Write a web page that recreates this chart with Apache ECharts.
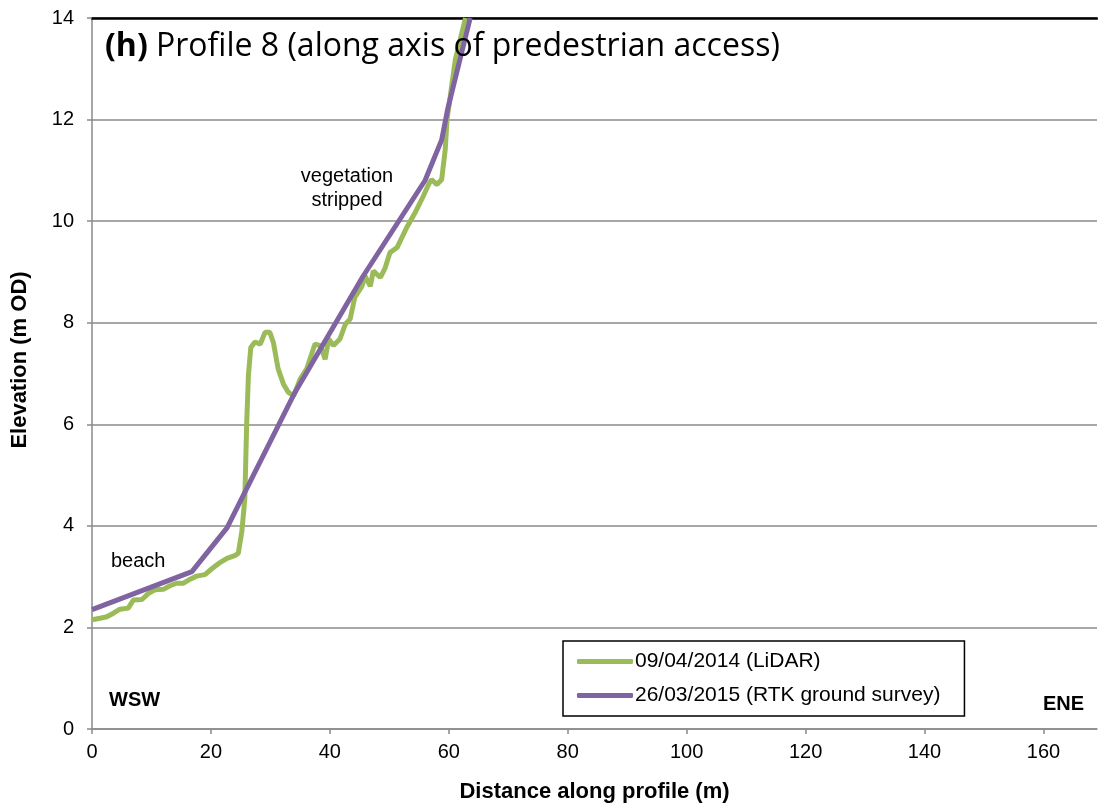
<!DOCTYPE html>
<html>
<head>
<meta charset="utf-8">
<script src="https://cdn.jsdelivr.net/npm/echarts@6/dist/echarts.min.js"></script>
<style>
html,body{margin:0;padding:0;background:#fff;}
#chart{width:1098px;height:808px;}
</style>
</head>
<body>
<div id="chart"></div>
<script>
// LiDAR profile, 09/04/2014
var lidarX = [0, 1.35, 2.5, 3.6, 4.7, 6.1, 6.95, 8.4, 9.5, 10.6, 12.0, 13.1, 14.2, 15.4, 16.5, 17.6, 19.0, 20.1, 21.3, 22.7, 24.1, 24.6, 25.2, 25.7, 26.0, 26.3, 26.7, 27.4, 28.3, 29.1, 29.9, 30.5, 31.3, 32.2, 33.0, 33.9, 35.0, 36.1, 37.5, 38.4, 39.2, 39.8, 40.6, 41.7, 42.6, 43.4, 44.2, 45.4, 45.9, 46.8, 47.3, 48.5, 49.3, 50.1, 51.3, 52.9, 54.3, 55.7, 56.6, 57.1, 58.0, 58.8, 59.4, 59.7, 61.1, 62.8];
var lidarY = [2.15, 2.18, 2.21, 2.28, 2.36, 2.38, 2.54, 2.55, 2.67, 2.74, 2.75, 2.82, 2.87, 2.87, 2.95, 3.01, 3.04, 3.15, 3.26, 3.36, 3.42, 3.46, 3.89, 4.54, 5.97, 6.96, 7.51, 7.62, 7.58, 7.81, 7.81, 7.61, 7.09, 6.79, 6.63, 6.56, 6.89, 7.09, 7.58, 7.55, 7.28, 7.68, 7.55, 7.68, 7.97, 8.07, 8.50, 8.72, 8.92, 8.72, 9.02, 8.89, 9.08, 9.38, 9.48, 9.87, 10.16, 10.49, 10.72, 10.82, 10.72, 10.82, 11.41, 12.0, 13.18, 14.0];
// RTK ground survey, 26/03/2015
var rtkX = [0, 16.8, 22.7, 34, 45.5, 56, 58.8, 59.8, 63.6];
var rtkY = [2.35, 3.1, 3.96, 6.6, 8.9, 10.8, 11.6, 12.2, 14];

var seriesNames = ['09/04/2014 (LiDAR)', '26/03/2015 (RTK ground survey)'];
var xTicks = [0, 20, 40, 60, 80, 100, 120, 140, 160];

function pairs(xs, ys){
    var out = [];
    for (var i = 0; i < xs.length; i++) out.push([xs[i], ys[i]]);
    return out;
}

var font = '"Liberation Sans", Arial, sans-serif';
var grey = '#8a8a8a';

var chart = echarts.init(document.getElementById('chart'));
var option = {
    animation: false,
    title: {
        text: '{b|(h)} Profile 8 (along axis of predestrian access)',
        left: 100,
        top: 26,
        textStyle: {
            fontFamily: '"Open Sans", sans-serif',
            fontSize: 32,
            fontWeight: 'normal',
            color: '#000',
            rich: {
                b: {fontFamily: '"Open Sans", sans-serif', fontSize: 32, fontWeight: 'bold', color: '#000'}
            }
        }
    },
    grid: {left: 92, right: 1, top: 18, bottom: 77},
    legend: {
        orient: 'vertical',
        left: 563,
        top: 641,
        padding: [10, 24, 10, 14],
        itemGap: 13,
        itemWidth: 56,
        itemHeight: 5,
        icon: 'roundRect',
        borderColor: '#000',
        borderWidth: 1.5,
        textStyle: {fontFamily: font, fontSize: 21, color: '#000', padding: [0, 0, 0, -3]},
        data: seriesNames
    },
    xAxis: [{
        type: 'value',
        min: 0,
        max: 169,
        interval: 20,
        name: 'Distance along profile (m)',
        nameLocation: 'middle',
        nameGap: 52,
        nameTextStyle: {fontFamily: font, fontSize: 22, fontWeight: 'bold', color: '#000'},
        axisLine: {lineStyle: {color: grey, width: 1.5}},
        axisTick: {show: true, length: 5, lineStyle: {color: grey, width: 1.5}},
        axisLabel: {
            fontFamily: font, fontSize: 20, color: '#000', margin: 13,
            showMaxLabel: false,
            formatter: function(v){ return xTicks.indexOf(v) >= 0 ? String(v) : ''; }
        },
        splitLine: {show: false}
    }, {
        type: 'value',
        position: 'top',
        min: 0,
        max: 169,
        axisLine: {show: true, lineStyle: {color: '#000', width: 2.5}},
        axisTick: {show: false},
        axisLabel: {show: false},
        splitLine: {show: false}
    }],
    yAxis: {
        type: 'value',
        min: 0,
        max: 14,
        interval: 2,
        axisLine: {show: true, lineStyle: {color: grey, width: 1.5}},
        axisTick: {show: true, length: 5, lineStyle: {color: grey, width: 1.5}},
        axisLabel: {fontFamily: font, fontSize: 20, color: '#000', margin: 18},
        splitLine: {lineStyle: {color: grey, width: 1.5}}
    },
    graphic: [
        {type: 'text', x: 20, y: 360, rotation: Math.PI / 2, style: {text: 'Elevation (m OD)', font: 'bold 22px "Liberation Sans", Arial', fill: '#000', align: 'center', verticalAlign: 'middle'}},
        {type: 'text', left: 111, top: 551, style: {text: 'beach', font: '20px "Liberation Sans", Arial', fill: '#000'}},
        {type: 'text', x: 347, y: 164, style: {text: 'vegetation\nstripped', font: '20px "Liberation Sans", Arial', fill: '#000', align: 'center', lineHeight: 24}},
        {type: 'text', left: 109, top: 690, style: {text: 'WSW', font: 'bold 20px "Liberation Sans", Arial', fill: '#000'}},
        {type: 'text', left: 1043, top: 694, style: {text: 'ENE', font: 'bold 20px "Liberation Sans", Arial', fill: '#000'}}
    ],
    series: [{
        name: seriesNames[0],
        type: 'line',
        data: pairs(lidarX, lidarY),
        showSymbol: false,
        symbol: 'none',
        clip: true,
        lineStyle: {color: '#9bbb59', width: 5},
        itemStyle: {color: '#9bbb59'},
        z: 3
    }, {
        name: seriesNames[1],
        type: 'line',
        data: pairs(rtkX, rtkY),
        showSymbol: false,
        symbol: 'none',
        clip: true,
        lineStyle: {color: '#8064a2', width: 5},
        itemStyle: {color: '#8064a2'},
        z: 4
    }]
};
chart.setOption(option);
</script>
</body>
</html>
